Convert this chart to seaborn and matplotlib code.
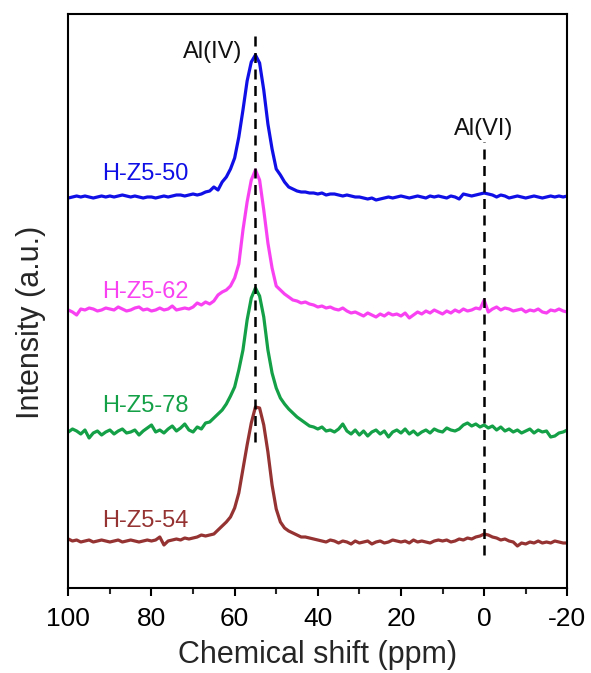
import numpy as np
import pandas as pd
import matplotlib
matplotlib.use("Agg")
import matplotlib.pyplot as plt
import seaborn as sns
from matplotlib.ticker import MultipleLocator

# 27Al MAS NMR spectra, sampled every 1 ppm from 100 to -20 ppm
shift_ppm = np.arange(100, -21, -1)

samples = ["H-Z5-50", "H-Z5-62", "H-Z5-78", "H-Z5-54"]
colors = ["#1010E6", "#F842F2", "#13A046", "#953232"]
offsets = [391, 278, 156, 47]          # vertical stacking of the traces

h_z5_50 = [
    -1, 0, 1, 0, 1, 0, -1, 0, 1, 0,
    1, 0, 1, 2, 1, 0, 1, 0, -1, 0,
    0, -1, 0, 1, 0, 1, 2, 2, 1, 2,
    3, 2, 3, 5, 6, 10, 7, 15, 20, 28,
    39, 60, 87, 116, 135, 142, 134, 107, 73, 48,
    28, 22, 15, 10, 8, 6, 5, 5, 4, 4,
    3, 4, 2, 3, 3, 2, 1, 2, 1, 0,
    0, -1, -2, -1, -3, -2, -1, 0, -1, 0,
    1, 0, -1, 0, 1, 0, -1, 1, 0, 1,
    0, -1, 1, 0, -2, 3, 2, 1, 2, 3,
    4, 3, 2, 0, 2, 1, -1, 0, 1, 0,
    -1, 0, 1, 0, -1, 0, 1, 0, 1, 0,
    1,
]
h_z5_62 = [
    0, -2, -5, 1, 0, 2, 1, -1, 0, 2,
    1, 0, 3, 1, -1, 0, 2, 3, 0, 1,
    -1, 0, 2, 0, 1, 4, 0, 1, 2, 1,
    3, 7, 5, 8, 6, 9, 15, 18, 20, 24,
    32, 46, 80, 108, 130, 140, 130, 100, 67, 42,
    24, 20, 16, 13, 10, 9, 7, 8, 6, 5,
    3, 4, 2, 3, 1, 0, 2, -1, -3, -2,
    -4, -6, -3, -5, -7, -4, -6, -3, -5, -4,
    -6, -3, -8, -5, -2, -4, -1, -3, 0, -2,
    -4, -1, -3, 0, -2, 1, -1, 0, 2, 1,
    10, -2, 1, 3, 0, 2, 1, -1, 0, 1,
    -2, 0, -1, 1, -2, -3, 0, -1, 1, -1,
    -2,
]
h_z5_78 = [
    0, 3, 1, -2, 2, -6, -1, 1, -3, 0,
    2, -2, 1, 3, -1, 0, 2, -3, 1, 4,
    7, 0, 2, -1, 3, 6, 1, 4, 8, 2,
    0, 5, 3, 9, 10, 14, 18, 22, 28, 36,
    45, 62, 82, 112, 134, 144, 136, 115, 82, 59,
    44, 34, 28, 23, 19, 15, 12, 9, 6, 5,
    3, 5, 1, 2, 0, 3, 8, 1, -2, 2,
    -3, 1, -4, 0, 2, -2, 1, -5, 0, 2,
    -1, 3, -2, 1, -3, 0, 2, -1, 3, 1,
    0, 4, 2, 1, 3, 7, 9, 6, 8, 5,
    7, 4, 6, 2, 5, 1, 3, 0, 2, -1,
    1, 3, -1, 2, 0, 1, -5, -4, -1, 0,
    2,
]
h_z5_54 = [
    2, 0, 1, -1, 0, 1, -1, 0, 1, 0,
    -1, 0, 1, -1, 0, 1, 0, -1, 0, 1,
    0, 1, 4, -4, 0, 1, 2, 1, 3, 2,
    3, 4, 6, 5, 6, 7, 11, 15, 19, 24,
    33, 48, 72, 96, 118, 134, 133, 116, 89, 56,
    32, 19, 13, 10, 8, 6, 4, 4, 3, 2,
    1, 0, -1, 1, 0, -2, 0, -1, -3, 0,
    -2, -1, 0, -3, -1, 0, -2, -1, 1, 0,
    -1, 0, -2, 1, -1, 0, -1, -2, 0, 1,
    0, 1, -1, 0, 2, 1, 3, 2, 4, 5,
    7, 6, 4, 3, 1, 2, 0, -1, -5, -2,
    -3, -1, -2, 0, -2, -1, -2, 0, -1, -2,
    -2,
]
spectra = [h_z5_50, h_z5_62, h_z5_78, h_z5_54]

# Al coordination sites and their marker lines
site_labels = ["Al(IV)", "Al(VI)"]
site_ppm = [55, 0]

frames = []
for name, trace, off in zip(samples, spectra, offsets):
    frames.append(pd.DataFrame({
        "shift": shift_ppm,
        "signal": np.asarray(trace, dtype=float) + off,
        "sample": name,
    }))
df = pd.concat(frames, ignore_index=True)

sns.set_theme(style="ticks")
plt.rcParams["font.family"] = ["Liberation Sans", "DejaVu Sans"]
plt.rcParams["axes.unicode_minus"] = False

fig = plt.figure(figsize=(5.91, 6.73), dpi=100)
ax = fig.add_axes([0.1156, 0.1263, 0.8443, 0.8529])

sns.lineplot(data=df, x="shift", y="signal", hue="sample", hue_order=samples,
             palette=dict(zip(samples, colors)), estimator=None, sort=False,
             linewidth=2.3, legend=False, ax=ax)

ax.set_xlim(100, -20)
ax.set_ylim(0, 574)

# dashed site markers, drawn over the traces
ax.plot([site_ppm[0]] * 2, [146, 558], color="black", lw=1.8,
        ls=(0, (4, 2.6)), zorder=5)
ax.plot([site_ppm[1]] * 2, [33, 446], color="black", lw=1.8,
        ls=(0, (4, 2.6)), zorder=5)
ax.text(58.2, 530, site_labels[0], ha="right", va="baseline", fontsize=17,
        color="#111111")
ax.text(site_ppm[1], 453, site_labels[1], ha="center", va="baseline",
        fontsize=17, color="#111111")

# sample names above each baseline
label_y = [408, 290, 176, 61]
for name, col, ly in zip(samples, colors, label_y):
    ax.text(91.9, ly, name, ha="left", va="baseline", fontsize=17, color=col)

ax.xaxis.set_major_locator(MultipleLocator(20))
ax.xaxis.set_minor_locator(MultipleLocator(10))
ax.set_yticks([])
ax.tick_params(axis="x", which="major", direction="out", length=5.8,
               width=1.5, labelsize=19, pad=8, colors="black")
ax.tick_params(axis="x", which="minor", direction="out", length=4.2,
               width=1.5)
for sp in ax.spines.values():
    sp.set_visible(True)
    sp.set_linewidth(1.5)
    sp.set_color("black")

ax.set_xlabel("Chemical shift (ppm)", fontsize=22, labelpad=6)
ax.set_ylabel("Intensity (a.u.)", fontsize=22)
ax.yaxis.set_label_coords(-0.045, 0.462)

fig.savefig("out.png", dpi=100)
